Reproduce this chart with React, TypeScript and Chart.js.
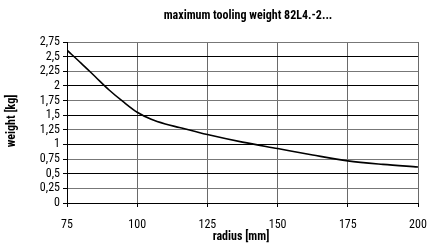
import React, { useEffect, useRef } from "react";
import { Chart, registerables } from "chart.js";

Chart.register(...registerables);

const radius = [75, 80, 85, 90, 95, 100, 105, 110, 115, 120, 125, 137.5, 150, 162.5, 175, 187.5, 200];
const weight = [2.61, 2.39, 2.16, 1.93, 1.73, 1.55, 1.43, 1.35, 1.29, 1.23, 1.17, 1.04, 0.93, 0.82, 0.72, 0.66, 0.615];
const xTicks = [75, 100, 125, 150, 175, 200];
const chartTitle = "maximum tooling weight 82L4.-2...";
const xTitle = "radius [mm]";
const yTitle = "weight [kg]";

const FAMILY = "Roboto, 'Open Sans', sans-serif";

export default function App() {
  const ref = useRef<HTMLCanvasElement>(null);
  useEffect(() => {
    document.body.style.margin = "0";
    const titles = {
      id: "titles",
      afterDraw(chart: any) {
        const ctx = chart.ctx;
        ctx.save();
        ctx.fillStyle = "#000";
        ctx.textAlign = "center";
        ctx.textBaseline = "middle";
        ctx.font = `condensed bold 12px ${FAMILY}`;
        ctx.fillText(chartTitle, 248, 16);
        ctx.fillText(xTitle, 241, 237);
        ctx.translate(12, 121);
        ctx.rotate(-Math.PI / 2);
        ctx.fillText(yTitle, 0, 0);
        ctx.restore();
      },
    };
    const tickFont = { family: FAMILY, size: 12, weight: "condensed" as any };
    const chart = new Chart(ref.current!, {
      type: "line",
      data: {
        datasets: [
          {
            data: radius.map((r, i) => ({ x: r, y: weight[i] })),
            borderColor: "#000",
            borderWidth: 1.6,
            pointRadius: 0,
            cubicInterpolationMode: "monotone",
            fill: false,
          },
        ],
      },
      options: {
        animation: false,
        responsive: false,
        maintainAspectRatio: false,
        layout: { padding: { top: 42, right: 0, left: 0, bottom: 0 } },
        plugins: { legend: { display: false }, tooltip: { enabled: false }, title: { display: false } },
        scales: {
          x: {
            type: "linear",
            min: 75,
            max: 200,
            afterBuildTicks: (axis: any) => {
              axis.ticks = xTicks.map((v) => ({ value: v }));
            },
            afterFit: (axis: any) => {
              axis.height = 48;
              axis.paddingRight = 10;
              axis.paddingLeft = 0;
            },
            grid: {
              color: "#6a6a6a",
              lineWidth: 1,
              tickLength: 4,
              tickColor: "#000",
            },
            border: { color: "#000", width: 1 },
            ticks: { color: "#000", font: tickFont, padding: 11, maxRotation: 0, autoSkip: false },
          },
          y: {
            min: 0,
            max: 2.75,
            afterFit: (axis: any) => {
              axis.width = 67;
              axis.paddingTop = 0;
              axis.paddingBottom = 0;
            },
            grid: {
              color: (c: any) => (Math.round(c.tick.value * 4) % 2 === 0 ? "#000" : "#777"),
              lineWidth: 1,
              tickLength: 4,
              tickColor: "#000",
            },
            border: { color: "#000", width: 1 },
            ticks: {
              stepSize: 0.25,
              color: "#000",
              font: tickFont,
              padding: 3,
              autoSkip: false,
              callback: (v: any) => String(v).replace(".", ","),
            },
          },
        },
      },
      plugins: [titles],
    });
    return () => chart.destroy();
  }, []);
  return (
    <div style={{ position: "absolute", left: 0, top: 0, width: 428, height: 251, background: "#fff" }}>
      <canvas ref={ref} width={428} height={251} style={{ width: 428, height: 251 }} />
    </div>
  );
}
